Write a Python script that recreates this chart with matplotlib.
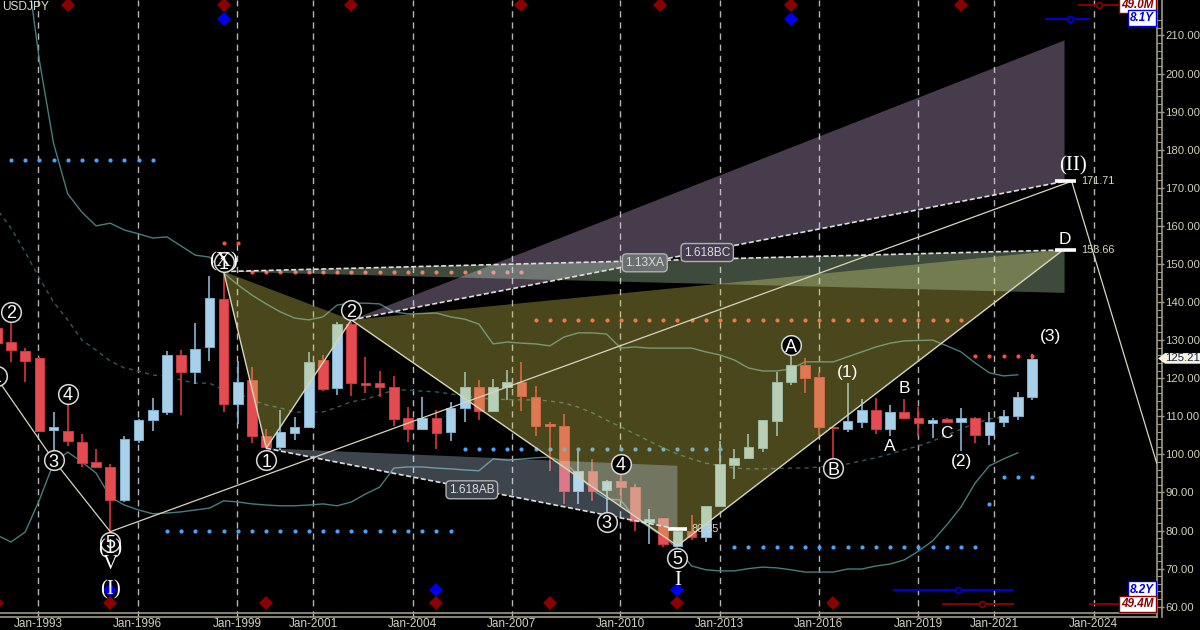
import matplotlib

matplotlib.use("Agg")
import matplotlib.pyplot as plt
import numpy as np

plt.rcParams["font.family"] = ["Liberation Sans", "DejaVu Sans"]

# yearly-ish candles, x is the bar number
opens = [133.2, 129.6, 127.2, 125.4, 106.4, 106.1, 103.2, 97.9, 96.7, 88.0, 103.8, 109.0, 111.2, 126.0, 121.7,
         128.1, 140.8, 113.2, 119.4, 104.9, 101.9, 105.7, 107.1, 124.7, 117.4, 134.3, 118.7, 118.8, 117.6, 109.5,
         106.7, 109.5, 105.8, 112.3, 117.7, 111.5, 117.7, 119.1, 115.1, 107.9, 107.5, 90.5, 95.6, 90.6, 93.0,
         91.4, 82.3, 83.3, 76.0, 79.9, 78.2, 86.5, 97.3, 99.0, 101.8, 108.7, 118.9, 123.5, 120.2, 107.1,
         106.6, 108.5, 111.7, 106.6, 111.0, 109.6, 108.3, 109.3, 108.5, 109.6, 105.2, 108.5, 110.0, 115.0]
highs = [135.3, 134.5, 127.9, 125.6, 111.2, 113.0, 105.4, 101.4, 97.5, 104.8, 109.4, 114.9, 127.2, 127.4, 134.4,
         146.8, 147.9, 124.6, 122.9, 106.7, 111.7, 109.7, 126.8, 126.1, 134.8, 134.8, 125.6, 121.9, 120.7, 112.4,
         115.0, 111.7, 113.8, 121.5, 119.4, 119.8, 122.2, 124.2, 118.0, 108.6, 110.7, 101.6, 98.7, 93.2, 94.6,
         92.2, 85.6, 83.3, 80.6, 84.2, 86.5, 103.6, 101.4, 105.4, 108.9, 121.6, 125.8, 125.2, 121.7, 107.2,
         118.7, 114.5, 114.7, 113.0, 114.5, 112.4, 109.5, 109.6, 112.1, 109.7, 111.0, 111.7, 116.4, 126.3]
lows = [127.3, 124.3, 119.1, 106.0, 98.5, 102.3, 96.8, 96.5, 79.7, 87.6, 102.9, 106.1, 110.3, 110.3, 118.4,
        124.5, 111.2, 108.0, 103.1, 101.7, 101.2, 103.8, 107.0, 116.6, 115.6, 115.4, 116.1, 115.0, 107.5, 103.3,
        106.4, 101.5, 103.6, 108.6, 109.0, 111.2, 114.3, 111.5, 104.8, 95.7, 87.1, 87.1, 87.8, 82.3, 88.0,
        80.0, 76.4, 75.8, 75.8, 77.5, 77.1, 86.4, 93.5, 98.9, 100.5, 104.9, 118.2, 116.2, 105.1, 98.0,
        106.0, 107.0, 105.4, 104.7, 109.4, 104.8, 104.2, 108.2, 101.0, 103.1, 102.4, 107.3, 108.9, 114.3]
closes = [129.2, 127.4, 124.6, 106.2, 107.2, 103.4, 97.7, 96.6, 88.0, 104.0, 109.0, 111.6, 126.0, 121.5, 127.7,
          141.0, 113.2, 119.0, 104.8, 101.9, 105.8, 107.1, 124.2, 117.2, 134.2, 118.8, 118.3, 117.7, 109.2, 106.7,
          109.5, 105.5, 112.3, 117.7, 111.5, 117.7, 119.1, 115.3, 107.5, 107.4, 90.5, 95.6, 90.5, 93.0, 91.4,
          82.4, 83.0, 76.4, 80.0, 78.2, 86.5, 97.5, 99.1, 101.9, 108.9, 119.1, 123.5, 120.1, 107.1, 106.8,
          108.7, 111.7, 106.7, 111.0, 109.6, 108.2, 109.0, 108.6, 109.6, 105.2, 108.6, 110.0, 115.1, 125.1]

# bollinger bands: upper starts at bar 2, the other two at bar 0
band_upper = [231.4, 203.5, 181.7, 168.4, 163.6, 160.0, 160.7, 158.9, 157.9, 156.8, 157.1, 154.7, 152.3, 151.8,
              147.6, 144.5, 141.8, 139.5, 137.4, 135.8, 135.3, 136.1, 139.2, 139.7, 139.7, 139.5, 137.4, 136.9,
              137.0, 137.1, 136.1, 135.5, 134.2, 129.0, 129.5, 129.2, 129.0, 128.5, 130.8, 131.9, 131.9, 131.6,
              127.9, 128.2, 127.9, 127.9, 127.9, 127.9, 126.9, 126.1, 124.8, 122.7, 121.9, 121.9, 122.4, 124.3,
              124.3, 124.3, 125.6, 126.9, 128.2, 129.2, 129.8, 129.9, 130.0, 128.5, 126.9, 124.0, 121.4, 120.6,
              120.9]
band_lower = [78.8, 77.0, 79.6, 88.0, 97.7, 100.6, 98.0, 95.1, 88.8, 86.7, 85.4, 84.4, 84.6, 84.9, 85.4, 85.9,
              87.8, 87.5, 87.0, 86.7, 86.5, 86.5, 86.7, 87.0, 86.5, 87.5, 89.6, 91.4, 96.4, 96.7, 96.7, 96.4,
              96.2, 95.9, 95.7, 98.8, 98.5, 98.8, 99.1, 99.3, 98.0, 94.6, 90.7, 88.3, 88.0, 83.3, 80.9, 78.3,
              75.4, 70.7, 69.7, 69.4, 69.4, 70.0, 70.4, 70.2, 69.7, 69.1, 69.1, 69.1, 69.9, 69.9, 70.7, 71.2,
              72.3, 74.6, 77.3, 81.5, 86.2, 92.5, 97.0, 98.8, 100.4]
band_mid = [164.4, 159.4, 153.1, 146.3, 140.0, 135.3, 130.0, 127.4, 124.5, 122.7, 121.9, 120.8, 120.6, 119.5,
            118.7, 118.7, 116.9, 116.1, 114.3, 113.0, 112.2, 111.1, 111.1, 111.1, 112.4, 113.8, 114.5, 115.6,
            116.9, 116.9, 116.6, 116.4, 115.9, 115.3, 114.8, 114.5, 114.4, 114.3, 114.3, 114.0, 113.5, 112.4,
            110.9, 109.0, 107.2, 105.4, 103.5, 101.7, 100.1, 98.8, 97.7, 97.0, 96.4, 96.2, 96.2, 96.3, 96.4,
            96.4, 96.7, 97.0, 97.5, 98.3, 99.1, 100.1, 101.2, 102.2, 103.5, 105.1, 106.6, 108.2, 109.3, 109.8]

# dotted levels: first bar, last bar, price
blue_dots = [(1, 11, 177.3), (12, 32, 79.8), (33, 51, 101.5), (52, 69, 75.8), (70, 70, 87.0), (71, 73, 94.1)]
red_dots = [(16, 17, 155.5), (18, 37, 147.9), (38, 68, 135.3), (69, 73, 125.9)]

# cycle diamonds, bar numbers
red_top = [5, 16, 25, 37, 46.8, 56, 68]
blue_top = [16, 56]
red_bottom = [0, 8, 19, 31, 39, 48, 59]
blue_bottom = [8, 31, 48]

# harmonic pattern points (bar, price)
point_x = (16, 148.0)
point_a = (19, 101.6)
point_b = (25, 135.3)
point_c = (48, 76.0)
point_d = (75.2, 153.66)
wave_x = [0, 4, 8, 75.8, 81.8]
wave_y = [120.0, 98.5, 79.7, 171.71, 97.7]

tick_pos = [2.93, 9.94, 16.96, 22.32, 29.33, 36.33, 43.97, 50.98, 57.98, 64.98, 70.35, 77.35]
tick_labels = ["Jan-1993", "Jan-1996", "Jan-1999", "Jan-2001", "Jan-2004", "Jan-2007", "Jan-2010", "Jan-2013",
               "Jan-2016", "Jan-2019", "Jan-2021", "Jan-2024"]

circled = [("1", 0, 120.6), ("2", 1, 137.4), ("3", 4, 98.5), ("4", 5, 115.9), ("5", 8, 77.0), ("1", 16, 150.5),
           ("1", 19, 98.5), ("2", 25, 137.9), ("3", 43, 82.3), ("4", 44, 97.5), ("5", 48, 72.8), ("A", 56, 128.7),
           ("B", 59, 96.4)]
plain = [("(1)", 60, 121.4), ("A", 63, 102.0), ("B", 64, 117.4), ("C", 67, 105.4), ("(2)", 68, 98.1),
         ("(3)", 74.3, 130.9), ("D", 75.3, 156.5)]
serif = [("(1)", 8, 75.3), ("V", 8, 71.0), ("(I)", 8, 64.4), ("(X)", 16, 150.5), ("I", 48, 66.9),
         ("(II)", 75.9, 175.7)]

GRID = "#b4b4b4"
AXIS = "#9c9c84"
TEXT = "#d0d0b8"
CREAM = "#d8d6bc"
BLUE = "#a8d0e8"
RED = "#e44c52"
DOT_BLUE = "#4aa3f5"
DOT_RED = "#ff4a3c"

fig = plt.figure(figsize=(12, 6.3), dpi=100, facecolor="black")
ax = fig.add_axes([0, 13 / 630, 1157 / 1200, 617 / 630], facecolor="black")
ax.set_xlim(0.2257, 81.82)
ax.set_ylim(57.3, 219.3)

for pos in tick_pos:
    ax.axvline(pos, color=GRID, lw=1, ls=(0, (4.5, 3.5)), zorder=1)

# bands
ax.plot(np.arange(len(band_upper)) + 2, band_upper, color="#4a7c7e", lw=1, zorder=2)
ax.plot(np.arange(len(band_lower)), band_lower, color="#4a7c7e", lw=1, zorder=2)
ax.plot(np.arange(len(band_mid)), band_mid, color="#2f5c58", lw=1, ls=(0, (3, 3)), zorder=2)

# candles
x = np.arange(len(opens))
o = np.array(opens)
c = np.array(closes)
up = c >= o
colors = [BLUE if u else RED for u in up]
wicks = ["#86b6d4" if u else "#d9343c" for u in up]
ax.vlines(x, lows, highs, colors=wicks, lw=1.2, zorder=3)
edges = ["#7fb0cf" if u else "#c93a42" for u in up]
ax.bar(x, np.abs(c - o), bottom=np.minimum(o, c), width=0.68, color=colors, edgecolor=edges, lw=0.7, zorder=4)

# dots
for first, last, level in blue_dots:
    xs = np.arange(first, last + 1)
    ax.scatter(xs, [level] * len(xs), s=9, color=DOT_BLUE, lw=0, zorder=5)
for first, last, level in red_dots:
    xs = np.arange(first, last + 1)
    ax.scatter(xs, [level] * len(xs), s=9, color=DOT_RED, lw=0, zorder=5)

# pattern fills go over the candles
olive = dict(color="#d6ce56", alpha=0.35, lw=0, zorder=6)
ax.fill(*zip(point_x, point_a, point_b), **olive)
ax.fill(*zip(point_b, point_c, point_d), **olive)
ax.fill(*zip(point_a, (48, 97.0), (48, 80.4)), color="#cfe3ff", alpha=0.3, lw=0, zorder=6)
ax.fill(*zip(point_b, (75.3, 208.7), (75.3, 171.7)), color="#e9c8ff", alpha=0.3, lw=0, zorder=6)
ax.fill(*zip(point_x, (75.3, 153.7), (75.3, 142.4)), color="#cffac8", alpha=0.3, lw=0, zorder=6)

# pattern outline and projections
ax.plot(*zip(point_x, point_a, point_b, point_c, point_d), color=CREAM, lw=1, zorder=7)
dash = dict(color="#dedede", lw=1.2, ls=(0, (3, 1.5)), zorder=7)
ax.plot(*zip(point_x, point_d), **dash)
ax.plot(*zip(point_b, (75.3, 171.7)), **dash)
ax.plot(*zip(point_a, (48, 80.4)), **dash)
ax.plot(wave_x, wave_y, color=CREAM, lw=0.9, zorder=7)

# level bars
ax.hlines([171.71, 153.66], 74.6, 76.1, color="white", lw=2.6, zorder=8)
ax.hlines(80.35, 47.3, 48.7, color="white", lw=2.6, zorder=8)
small = dict(fontsize=7.8, color=CREAM, va="center", ha="left", zorder=9)
ax.text(76.5, 171.71, "171.71", **small)
ax.text(76.5, 153.66, "153.66", **small)
ax.text(49.0, 80.35, "80.35", **small)

# fib labels
for label, bx, by, face in [("1.618AB", 33.5, 90.7, "#3c424c"), ("1.13XA", 45.7, 150.3, "#6a7070"),
                            ("1.618BC", 50.1, 153.0, "#463e50")]:
    ax.text(bx, by, label, fontsize=8.6, color="#dcdcdc", ha="center", va="center", zorder=9,
            bbox=dict(boxstyle="round,pad=0.25,rounding_size=0.35", fc=face, ec="#b0b0b0", lw=1))

# diamonds
ax.plot(red_top, [218.0] * len(red_top), "D", ms=7.3, color="#8b0000", mew=0, zorder=8)
ax.plot(blue_top, [214.3] * len(blue_top), "D", ms=7.3, color="#0000f0", mew=0, zorder=8)
ax.plot(blue_bottom, [64.5] * len(blue_bottom), "D", ms=7.3, color="#0000f0", mew=0, zorder=8)
ax.plot(red_bottom, [60.9] * len(red_bottom), "D", ms=7.3, color="#8b0000", mew=0, zorder=8)

# cycle ranges
ax.plot([74.0, 77.0], [214.4, 214.4], color="#0000e0", lw=1.4, zorder=8)
ax.plot([75.7], [214.4], "o", ms=4.2, mfc="black", mec="#0000e0", mew=1.2, zorder=9)
ax.plot([76.3, 79.1], [218.0, 218.0], color="#8b0000", lw=1.4, zorder=8)
ax.plot([77.7], [218.0], "o", ms=4.2, mfc="black", mec="#8b0000", mew=1.2, zorder=9)
ax.plot([63.3, 71.7], [64.4, 64.4], color="#0000e0", lw=1.4, zorder=8)
ax.plot([67.8], [64.4], "o", ms=4.2, mfc="black", mec="#0000e0", mew=1.2, zorder=9)
ax.plot([66.7, 71.7], [60.7, 60.7], color="#8b0000", lw=1.4, zorder=8)
ax.plot([69.5], [60.7], "o", ms=4.2, mfc="black", mec="#8b0000", mew=1.2, zorder=9)
ax.plot([77.1, 79.1], [60.7, 60.7], color="#8b0000", lw=1.4, zorder=8)
for label, by, col in [("49.0M", 218.0, "#8b0000"), ("8.1Y", 214.5, "#0000e0"), ("8.2Y", 64.5, "#0000e0"),
                       ("49.4M", 60.7, "#8b0000")]:
    ax.text(81.6, by, label, fontsize=8.4, color=col, fontweight="bold", fontstyle="italic", ha="right",
            va="center", zorder=10, bbox=dict(boxstyle="square,pad=0.18", fc="white", ec=col, lw=1))

# wave labels
for label, bx, by in circled:
    ax.scatter([bx], [by], s=200, facecolor="black", edgecolor="#d8d8d8", lw=1.1, zorder=10)
    ax.text(bx, by, label, fontsize=13, color="white", ha="center", va="center_baseline", zorder=11)
for label, bx, by in plain:
    ax.text(bx, by, label, fontsize=12.5, color="white", ha="center", va="center", zorder=11)
for label, bx, by in serif:
    ax.text(bx, by, label, fontsize=15, color="white", family="Liberation Serif", ha="center", va="center",
            zorder=12)

ax.text(2 / 1157, 1 - 7 / 617, "USDJPY", transform=ax.transAxes, fontsize=8.6, color="#e0e0cc", ha="left",
        va="center", zorder=12)

# axes
for name in ["top", "left"]:
    ax.spines[name].set_visible(False)
for name in ["right", "bottom"]:
    ax.spines[name].set_color(AXIS)
    ax.spines[name].set_linewidth(1.2)
ax.axhline(58.4, color=AXIS, lw=1.2, zorder=3)
ax.axvline(81.82 + 5 / 14.18, color=AXIS, lw=1.2, clip_on=False, zorder=3)

ax.set_xticks(tick_pos)
ax.set_xticklabels(tick_labels, fontsize=8.5, color=TEXT)
ax.tick_params(axis="x", length=0, pad=1)
ax.yaxis.tick_right()
ax.set_yticks(np.arange(60, 211, 10))
ax.set_yticklabels(["%.2f" % v for v in np.arange(60, 211, 10)], fontsize=8.2, color=TEXT)
ax.set_yticks(np.arange(60, 216, 2), minor=True)
ax.tick_params(axis="y", which="major", length=5, width=1, color=AXIS, pad=0.8)
ax.tick_params(axis="y", which="minor", length=3.6, width=0.8, color=AXIS)

# last price tag
tag_x = np.array([1158, 1165, 1205, 1205, 1165]) / 1157
tag_y = [125.21, 126.6, 126.6, 123.8, 123.8]
ax.fill(tag_x, tag_y, transform=ax.get_yaxis_transform(), color="#f6f2de", lw=0, clip_on=False, zorder=12)
ax.text(1165 / 1157, 125.21, "125.21", transform=ax.get_yaxis_transform(), fontsize=8.2, color="#10204a",
        ha="left", va="center", zorder=13)

fig.savefig("out.png", dpi=100, facecolor="black")
